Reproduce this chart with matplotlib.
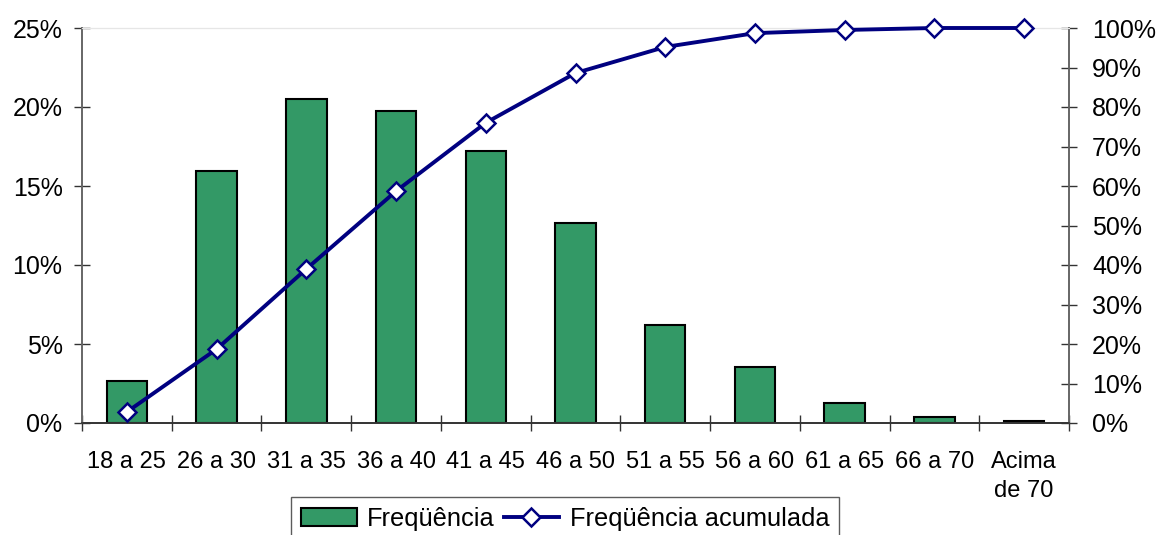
import matplotlib.pyplot as plt
import numpy as np
from matplotlib.ticker import FuncFormatter

plt.rcParams['font.family'] = ['Liberation Sans', 'DejaVu Sans']

# data
faixas = ['18 a 25', '26 a 30', '31 a 35', '36 a 40', '41 a 45', '46 a 50',
          '51 a 55', '56 a 60', '61 a 65', '66 a 70', 'Acima\nde 70']
frequencia = [2.66, 15.95, 20.5, 19.75, 17.2, 12.66, 6.2, 3.54, 1.27, 0.38, 0.13]
acumulada = [2.8, 18.7, 39.0, 58.7, 76.0, 88.6, 95.2, 98.7, 99.5, 100.0, 100.0]

x = np.arange(len(faixas))

fig = plt.figure(figsize=(11.6, 5.35), dpi=100)
ax = fig.add_axes([82/1160, 1-423/535, (1069-82)/1160, (423-28)/535])

bars = ax.bar(x, frequencia, width=0.45, color='#339966', edgecolor='black',
              linewidth=1.5, label='Freqüência', zorder=2)
ax.set_xlim(-0.5, len(faixas) - 0.5)
ax.set_ylim(0, 25)
ax.set_yticks(np.arange(0, 26, 5))
ax.yaxis.set_major_formatter(FuncFormatter(lambda v, p: '%d%%' % v))
ax.set_xticks(x)
ax.set_xticklabels(faixas, fontsize=17, linespacing=1.45)
ax.set_xticks(np.arange(-0.5, len(faixas)), minor=True)
ax.tick_params(axis='x', which='major', length=0, pad=20)
ax.tick_params(axis='x', which='minor', direction='inout', length=12, width=1, color='#333333')
ax.tick_params(axis='y', direction='inout', length=12, width=1, labelsize=18,
               color='#333333', pad=8)

ax2 = ax.twinx()
line, = ax2.plot(x, acumulada, color='#000080', linewidth=2.8, marker='D',
                 markersize=9, markerfacecolor='white', markeredgecolor='#000080',
                 markeredgewidth=1.8, label='Freqüência acumulada', zorder=3, clip_on=False)
ax2.set_ylim(0, 100)
ax2.set_yticks(np.arange(0, 101, 10))
ax2.yaxis.set_major_formatter(FuncFormatter(lambda v, p: '%d%%' % v))
ax2.tick_params(axis='y', direction='inout', length=12, width=1, labelsize=18,
                color='#333333', pad=10.5)

for a in (ax, ax2):
    a.spines['top'].set_color('#e6e6e6')
    a.spines['left'].set_color('#666666')
    a.spines['right'].set_color('#666666')
    a.spines['bottom'].set_color('#333333')
    a.spines['left'].set_linewidth(1.2)
    a.spines['right'].set_linewidth(1.2)
    a.spines['bottom'].set_linewidth(1.2)

leg = fig.legend([bars, line], ['Freqüência', 'Freqüência acumulada'],
                 loc='upper center', bbox_to_anchor=(565/1160, 1-497/535),
                 ncol=2, fontsize=18.3, frameon=True, fancybox=False,
                 handlelength=2.2, handletextpad=0.4, columnspacing=0.35,
                 borderpad=0.4, borderaxespad=0)
leg.get_frame().set_edgecolor('#333333')
leg.get_frame().set_linewidth(1)

fig.savefig('out.png', dpi=100)
